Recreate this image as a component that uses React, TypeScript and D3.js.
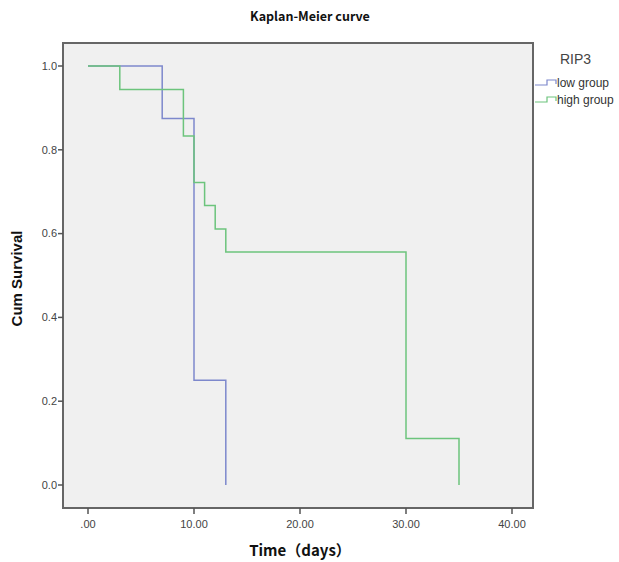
import React from "react";
import * as d3 from "d3";

const lowTimes = [0, 7, 10, 13];
const lowSurv = [1.0, 0.875, 0.25, 0.0];
const highTimes = [0, 3, 9, 10, 11, 12, 13, 30, 35];
const highSurv = [1.0, 0.944, 0.833, 0.722, 0.667, 0.611, 0.556, 0.111, 0.0];
const xTicks = [0, 10, 20, 30, 40];
const xTickLabels = [".00", "10.00", "20.00", "30.00", "40.00"];
const yTicks = [0, 0.2, 0.4, 0.6, 0.8, 1.0];
const seriesNames = ["low group", "high group"];
const seriesColors = ["#7d88cc", "#6cc47c"];

export default function App() {
  const W = 619, H = 562;
  const frame = { left: 63, right: 533, top: 43, bottom: 508 };
  const x = d3.scaleLinear().domain([0, 40]).range([88, 512]);
  const y = d3.scaleLinear().domain([0, 1]).range([485, 66]);
  const line = d3
    .line<[number, number]>()
    .x((d) => x(d[0]))
    .y((d) => y(d[1]))
    .curve(d3.curveStepAfter);
  const toPts = (t: number[], s: number[]) => t.map((v, i) => [v, s[i]] as [number, number]);
  const series = [toPts(lowTimes, lowSurv), toPts(highTimes, highSurv)];
  const tickFont = "'Liberation Sans', Arial, sans-serif";
  const cjk = "'Noto Sans CJK SC', 'DejaVu Sans', sans-serif";
  return (
    <svg width={W} height={H} style={{ position: "absolute", left: 0, top: 0, background: "#fff" }}>
      <text x={310} y={21} textAnchor="middle" fontFamily={cjk} fontWeight="bold" fontSize={12.5} fill="#111">
        Kaplan-Meier curve
      </text>
      <rect
        x={frame.left}
        y={frame.top}
        width={frame.right - frame.left}
        height={frame.bottom - frame.top}
        fill="#f0f0f0"
        stroke="#666"
        strokeWidth={2}
      />
      {yTicks.map((t) => (
        <g key={t}>
          <line x1={frame.left - 5} x2={frame.left} y1={y(t)} y2={y(t)} stroke="#555" strokeWidth={1.5} />
          <text x={frame.left - 6} y={y(t)} dy="0.35em" textAnchor="end" fontFamily={tickFont} fontSize={11} fill="#444">
            {t.toFixed(1)}
          </text>
        </g>
      ))}
      {xTicks.map((t, i) => (
        <g key={t}>
          <line x1={x(t)} x2={x(t)} y1={frame.bottom} y2={frame.bottom + 6} stroke="#555" strokeWidth={1.5} />
          <text x={x(t)} y={frame.bottom + 20} textAnchor="middle" fontFamily={tickFont} fontSize={11} fill="#444">
            {xTickLabels[i]}
          </text>
        </g>
      ))}
      {series.map((pts, i) => (
        <path key={i} d={line(pts) || ""} fill="none" stroke={seriesColors[i]} strokeWidth={1.5} />
      ))}
      <text x={300} y={556} textAnchor="middle" fontFamily={cjk} fontWeight="bold" fontSize={15} fill="#111">
        Time（days）
      </text>
      <text
        transform={`translate(22, ${y(0.5) + 3}) rotate(-90)`}
        textAnchor="middle"
        fontFamily={tickFont}
        fontWeight="bold"
        fontSize={15}
        fill="#111"
      >
        Cum Survival
      </text>
      <text x={560} y={64} fontFamily={tickFont} fontSize={14} fill="#444">
        RIP3
      </text>
      {seriesNames.map((n, i) => {
        const ly = 83 + i * 17;
        return (
          <g key={n}>
            <path
              d={`M535,${ly + 2}H547V${ly - 3}H556V${ly + 1}`}
              fill="none"
              stroke={seriesColors[i]}
              strokeWidth={1.2}
            />
            <text x={557} y={ly} dy="0.35em" fontFamily={tickFont} fontSize={12} fill="#333">
              {n}
            </text>
          </g>
        );
      })}
    </svg>
  );
}
